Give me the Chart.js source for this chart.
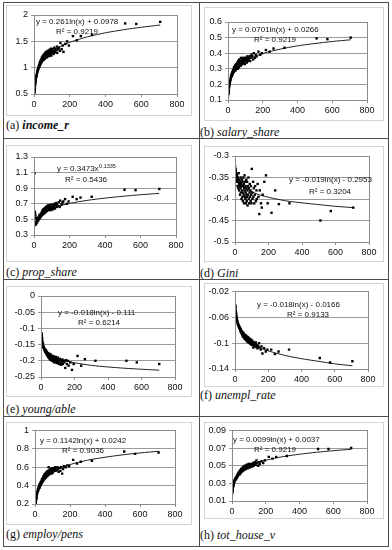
<!DOCTYPE html>
<html>
<head>
<meta charset="utf-8">
<script src="https://cdn.jsdelivr.net/npm/chart.js@4.4.1/dist/chart.umd.min.js"></script>
<style>
  body { margin: 0; background: #fff; width: 392px; height: 550px; position: relative; overflow: hidden; }
  .rule { position: absolute; background: #4d4d4d; }
  canvas { position: absolute; }
  .cap { position: absolute; font-family: 'Liberation Serif', serif; font-size: 12px; line-height: 16px; color: #111; white-space: nowrap; }
  .cap i { font-style: italic; }
</style>
</head>
<body>
<script>
// shared x values (same regions in every panel)
const X = [3,4,5,6,7,8,9,10,
  12,14,15,17,19,20,
  22,24,25,27,29,30,
  32,33,34,35,37,39,40,
  42,43,44,45,47,48,49,50,
  52,53,54,55,57,58,59,60,
  62,63,64,65,67,68,69,70,
  72,73,74,75,77,78,80,
  82,83,85,87,88,90,
  92,93,95,97,98,100,
  102,104,108,110,112,115,
  118,120,125,128,130,135,
  140,145,148,155,160,165,
  175,185,195,
  218,240,262,325,510,572,706];

const Y_INCOME = [0.53,0.57,0.6,0.66,0.7,0.72,0.76,0.8,
  0.82,0.86,0.85,0.9,0.93,0.95,
  0.97,0.99,1.0,1.03,1.05,1.02,
  1.08,1.05,1.1,1.12,1.08,1.14,1.1,
  1.16,1.12,1.19,1.13,1.17,1.21,1.15,1.2,
  1.18,1.24,1.15,1.22,1.19,1.26,1.21,1.17,
  1.23,1.28,1.2,1.25,1.22,1.3,1.19,1.26,
  1.24,1.29,1.21,1.27,1.32,1.23,1.28,
  1.25,1.3,1.22,1.34,1.27,1.24,
  1.31,1.26,1.36,1.23,1.29,1.33,
  1.28,1.35,1.3,1.26,1.38,1.32,
  1.29,1.36,1.33,1.4,1.28,1.35,
  1.38,1.32,1.47,1.35,1.42,1.3,
  1.45,1.5,1.42,
  1.6,1.52,1.6,1.62,1.84,1.83,1.87];

const Y_SALARY = [0.14,0.15,0.16,0.18,0.19,0.2,0.21,0.22,
  0.22,0.23,0.24,0.25,0.26,0.25,
  0.27,0.26,0.28,0.27,0.29,0.28,
  0.29,0.3,0.28,0.31,0.29,0.3,0.32,
  0.3,0.32,0.29,0.31,0.33,0.3,0.32,0.31,
  0.33,0.31,0.34,0.32,0.3,0.33,0.35,0.32,
  0.34,0.31,0.33,0.36,0.32,0.34,0.35,0.33,
  0.35,0.32,0.34,0.37,0.33,0.35,0.34,
  0.36,0.33,0.35,0.34,0.37,0.35,
  0.34,0.36,0.35,0.33,0.37,0.36,
  0.35,0.37,0.34,0.36,0.38,0.35,
  0.37,0.36,0.38,0.35,0.37,0.39,
  0.38,0.36,0.4,0.37,0.39,0.38,
  0.41,0.39,0.4,
  0.42,0.41,0.43,0.435,0.495,0.49,0.5];

const Y_PROP = [1.09,0.6,0.44,0.58,0.43,0.55,0.45,0.52,
  0.44,0.47,0.5,0.46,0.49,0.48,
  0.5,0.52,0.49,0.53,0.51,0.55,
  0.54,0.52,0.56,0.55,0.53,0.57,0.56,
  0.58,0.55,0.57,0.6,0.56,0.59,0.62,0.58,
  0.6,0.57,0.63,0.59,0.61,0.58,0.64,0.6,
  0.62,0.59,0.65,0.61,0.63,0.6,0.66,0.62,
  0.64,0.61,0.67,0.63,0.65,0.62,0.68,
  0.64,0.66,0.62,0.68,0.65,0.63,
  0.67,0.64,0.69,0.62,0.66,0.68,
  0.65,0.67,0.63,0.69,0.66,0.7,
  0.64,0.68,0.71,0.66,0.69,0.67,
  0.72,0.66,0.74,0.69,0.71,0.73,
  0.76,0.7,0.73,
  0.79,0.76,0.78,0.79,0.88,0.875,0.89];

const Y_GINI = [-0.33,-0.335,-0.345,-0.34,-0.355,-0.34,-0.35,-0.36,
  -0.345,-0.355,-0.37,-0.35,-0.36,-0.375,
  -0.34,-0.365,-0.38,-0.355,-0.37,-0.39,
  -0.36,-0.375,-0.35,-0.385,-0.365,-0.4,-0.37,
  -0.355,-0.38,-0.395,-0.36,-0.405,-0.37,-0.385,-0.35,
  -0.39,-0.365,-0.41,-0.375,-0.345,-0.395,-0.38,-0.36,
  -0.4,-0.37,-0.385,-0.41,-0.355,-0.39,-0.375,-0.405,
  -0.36,-0.395,-0.38,-0.415,-0.37,-0.39,-0.35,
  -0.4,-0.375,-0.41,-0.385,-0.365,-0.395,
  -0.38,-0.405,-0.37,-0.39,-0.41,-0.33,
  -0.385,-0.4,-0.36,-0.395,-0.375,-0.41,
  -0.39,-0.37,-0.405,-0.38,-0.4,-0.365,
  -0.395,-0.435,-0.38,-0.41,-0.42,-0.39,
  -0.36,-0.345,-0.41,
  -0.432,-0.38,-0.412,-0.41,-0.45,-0.428,-0.42];

const Y_YOUNG = [-0.115,-0.125,-0.12,-0.135,-0.13,-0.14,-0.145,-0.15,
  -0.148,-0.155,-0.16,-0.158,-0.165,-0.162,
  -0.168,-0.165,-0.172,-0.17,-0.175,-0.168,
  -0.176,-0.172,-0.18,-0.174,-0.182,-0.178,-0.185,
  -0.176,-0.188,-0.18,-0.184,-0.19,-0.178,-0.186,-0.192,
  -0.182,-0.195,-0.186,-0.19,-0.18,-0.197,-0.188,-0.184,
  -0.192,-0.186,-0.199,-0.19,-0.185,-0.196,-0.2,-0.188,
  -0.194,-0.19,-0.202,-0.186,-0.198,-0.192,-0.205,
  -0.19,-0.2,-0.195,-0.204,-0.188,-0.198,
  -0.202,-0.193,-0.207,-0.196,-0.2,-0.19,
  -0.205,-0.196,-0.21,-0.2,-0.194,-0.208,
  -0.198,-0.212,-0.203,-0.196,-0.21,-0.2,
  -0.205,-0.222,-0.198,-0.21,-0.2,-0.215,
  -0.205,-0.228,-0.21,
  -0.185,-0.215,-0.195,-0.2,-0.2,-0.205,-0.21];

const Y_UNEMPL = [-0.042,-0.045,-0.05,-0.053,-0.055,-0.058,-0.06,-0.062,
  -0.064,-0.066,-0.068,-0.07,-0.072,-0.071,
  -0.074,-0.073,-0.076,-0.075,-0.078,-0.077,
  -0.08,-0.078,-0.082,-0.079,-0.083,-0.081,-0.085,
  -0.082,-0.086,-0.084,-0.088,-0.085,-0.09,-0.087,-0.084,
  -0.089,-0.086,-0.091,-0.088,-0.093,-0.087,-0.09,-0.092,
  -0.089,-0.094,-0.091,-0.088,-0.095,-0.092,-0.09,-0.096,
  -0.093,-0.09,-0.097,-0.094,-0.091,-0.098,-0.095,
  -0.092,-0.099,-0.096,-0.093,-0.1,-0.097,
  -0.094,-0.101,-0.098,-0.095,-0.102,-0.099,
  -0.096,-0.103,-0.1,-0.107,-0.098,-0.104,
  -0.101,-0.105,-0.099,-0.106,-0.103,-0.108,
  -0.104,-0.1,-0.107,-0.11,-0.105,-0.116,
  -0.108,-0.113,-0.11,
  -0.11,-0.117,-0.113,-0.11,-0.123,-0.13,-0.128];

const Y_EMPLOY = [0.21,0.23,0.22,0.26,0.25,0.28,0.27,0.3,
  0.31,0.33,0.34,0.36,0.35,0.38,
  0.37,0.39,0.41,0.38,0.42,0.4,
  0.43,0.41,0.44,0.42,0.45,0.43,0.47,
  0.44,0.46,0.48,0.45,0.47,0.5,0.46,0.48,
  0.5,0.47,0.52,0.49,0.51,0.48,0.53,0.5,
  0.52,0.49,0.54,0.51,0.53,0.5,0.55,0.52,
  0.54,0.51,0.56,0.53,0.55,0.6,0.52,
  0.55,0.57,0.53,0.56,0.54,0.58,
  0.55,0.57,0.53,0.59,0.56,0.54,
  0.57,0.55,0.59,0.56,0.58,0.6,
  0.56,0.59,0.57,0.6,0.58,0.55,
  0.59,0.56,0.6,0.53,0.58,0.61,
  0.6,0.62,0.61,
  0.68,0.64,0.66,0.67,0.77,0.745,0.76];

const Y_HOUSE = [0.02,0.022,0.024,0.026,0.027,0.028,0.029,0.03,
  0.031,0.032,0.033,0.034,0.035,0.034,
  0.036,0.035,0.037,0.036,0.038,0.037,
  0.039,0.038,0.04,0.039,0.041,0.04,0.042,
  0.041,0.043,0.04,0.042,0.044,0.041,0.043,0.045,
  0.042,0.044,0.046,0.043,0.045,0.047,0.044,0.046,
  0.045,0.047,0.044,0.048,0.046,0.049,0.045,0.047,
  0.048,0.046,0.049,0.047,0.05,0.048,0.046,
  0.049,0.047,0.05,0.048,0.051,0.049,
  0.047,0.05,0.048,0.051,0.049,0.052,
  0.05,0.048,0.051,0.049,0.052,0.05,
  0.051,0.049,0.053,0.05,0.052,0.054,
  0.051,0.056,0.053,0.05,0.054,0.052,
  0.055,0.053,0.056,
  0.06,0.058,0.06,0.061,0.069,0.069,0.07];

// trend line values read at these x positions
const TREND_X = [3,5,8,12,20,30,45,70,100,150,200,300,400,500,600,706];
const TREND_INCOME = [0.385,0.518,0.64,0.746,0.88,0.986,1.091,1.207,1.3,1.406,1.481,1.587,1.662,1.72,1.767,1.81];
const TREND_SALARY = [0.104,0.139,0.172,0.201,0.237,0.265,0.293,0.324,0.349,0.378,0.398,0.426,0.447,0.462,0.475,0.486];
const TREND_PROP = [0.402,0.431,0.458,0.484,0.518,0.547,0.577,0.612,0.642,0.678,0.705,0.744,0.773,0.796,0.816,0.834];
const TREND_GINI = [-0.316,-0.326,-0.335,-0.343,-0.352,-0.36,-0.368,-0.376,-0.383,-0.391,-0.396,-0.404,-0.409,-0.413,-0.417,-0.42];
const TREND_YOUNG = [-0.131,-0.14,-0.148,-0.156,-0.165,-0.172,-0.18,-0.188,-0.194,-0.201,-0.206,-0.214,-0.219,-0.223,-0.226,-0.229];
const TREND_UNEMPL = [-0.036,-0.046,-0.054,-0.061,-0.071,-0.078,-0.085,-0.093,-0.1,-0.107,-0.112,-0.119,-0.124,-0.128,-0.132,-0.135];
const TREND_EMPLOY = [0.15,0.208,0.262,0.308,0.366,0.413,0.459,0.509,0.55,0.596,0.629,0.676,0.708,0.734,0.755,0.773];
const TREND_HOUSE = [0.0146,0.0196,0.0243,0.0283,0.0334,0.0374,0.0414,0.0458,0.0493,0.0533,0.0562,0.0602,0.063,0.0652,0.067,0.0686];

const SERIES_Y = [Y_INCOME, Y_SALARY, Y_PROP, Y_GINI, Y_YOUNG, Y_UNEMPL, Y_EMPLOY, Y_HOUSE];
const SERIES_TREND = [TREND_INCOME, TREND_SALARY, TREND_PROP, TREND_GINI, TREND_YOUNG, TREND_UNEMPL, TREND_EMPLOY, TREND_HOUSE];

const LETTERS = ['(a)','(b)','(c)','(d)','(e)','(f)','(g)','(h)'];
const NAMES = ['income_r','salary_share','prop_share','Gini','young/able','unempl_rate','employ/pens','tot_house_v'];
const EQUATIONS = ['y = 0.261ln(x) + 0.0978','y = 0.0701ln(x) + 0.0266','y = 0.3473x^0.1335','y = -0.019ln(x) - 0.2953',
  'y = -0.018ln(x) - 0.111','y = -0.018ln(x) - 0.0166','y = 0.1142ln(x) + 0.0242','y = 0.0099ln(x) + 0.0037'];
const R2 = ['0.9219','0.9219','0.5436','0.3204','0.6214','0.9133','0.9036','0.9219'];

const Y_MIN = [0.5, 0.1, 0.3, -0.5, -0.25, -0.14, 0.2, 0.01];
const Y_MAX = [2, 0.6, 1.3, -0.3, 0, -0.02, 1, 0.09];
const Y_STEP = [0.5, 0.1, 0.2, 0.05, 0.05, 0.02, 0.2, 0.02];
const X_MIN = 0, X_MAX = 800, X_STEP = 200;

// page layout: chart frame, plot box, equation offsets, caption position
const LAYOUT = [
  { frame: [6,5,192,116],   plot: [34,15,177,94],   eq: [2,7,22,17],   cap: [6,125] },
  { frame: [204,7,384,121], plot: [228,22,367,100], eq: [4,8,26,18],   cap: [200,132] },
  { frame: [6,145,192,262], plot: [34,157,176,235], eq: [23,12,31,23], cap: [6,272] },
  { frame: [204,146,384,262], plot: [235,156,369,242], eq: [54,24,74,36], cap: [200,273] },
  { frame: [6,286,192,397], plot: [41,296,175,377], eq: [17,17,37,27], cap: [6,409] },
  { frame: [204,283,384,387], plot: [235,290,368,369], eq: [22,13,52,23], cap: [200,395] },
  { frame: [6,422,192,525], plot: [35,428,175,504], eq: [5,10,27,20],  cap: [6,534] },
  { frame: [204,422,384,519], plot: [232,429,367,501], eq: [1,9,22,19], cap: [200,535] }
];

const RULES = [
  [3,2,386,1], [3,546,386,1], [3,2,1,545], [388,2,1,545], [199,2,1,545],
  [3,138,386,1], [3,279,386,1], [3,416,386,1]
];

RULES.forEach(r => {
  const d = document.createElement('div');
  d.className = 'rule';
  d.style.cssText = `left:${r[0]}px;top:${r[1]}px;width:${r[2]}px;height:${r[3]}px`;
  document.body.appendChild(d);
});

const fmt = v => String(+v.toFixed(3));

const excelPlot = {
  id: 'excelPlot',
  beforeDraw(chart) {
    const ctx = chart.ctx;
    ctx.save();
    ctx.strokeStyle = '#d4d4d4';
    ctx.lineWidth = 1;
    ctx.strokeRect(0.5, 0.5, chart.width - 1, chart.height - 1);
    ctx.restore();
  },
  afterDatasetsDraw(chart) {
    const ctx = chart.ctx, a = chart.chartArea;
    ctx.save();
    ctx.strokeStyle = '#8c8c8c';
    ctx.lineWidth = 1;
    ctx.strokeRect(Math.round(a.left) + 0.5, Math.round(a.top) + 0.5, Math.round(a.right - a.left), Math.round(a.bottom - a.top));
    ctx.restore();
  },
  afterDraw(chart) {
    const o = chart.options.plugins.excelPlot;
    const ctx = chart.ctx, a = chart.chartArea;
    ctx.save();
    ctx.fillStyle = '#111';
    ctx.textBaseline = 'middle';
    ctx.font = '8px "Liberation Sans", Arial, sans-serif';
    const x1 = a.left + o.eq[0], y1 = a.top + o.eq[1];
    if (o.equation.includes('^')) {
      const [base, sup] = o.equation.split('^');
      ctx.fillText(base, x1, y1);
      const w = ctx.measureText(base).width;
      ctx.font = '5.5px "Liberation Sans", Arial, sans-serif';
      ctx.fillText(sup, x1 + w + 0.5, y1 - 3);
      ctx.font = '8px "Liberation Sans", Arial, sans-serif';
    } else {
      ctx.fillText(o.equation, x1, y1);
    }
    ctx.fillText('R\u00B2 = ' + o.r2, a.left + o.eq[2], a.top + o.eq[3]);
    ctx.restore();
  }
};

LAYOUT.forEach((p, i) => {
  const [fl, ft, fr, fb] = p.frame;
  const [pl, pt, pr, pb] = p.plot;
  const cv = document.createElement('canvas');
  cv.width = fr - fl;
  cv.height = fb - ft;
  cv.style.left = fl + 'px';
  cv.style.top = ft + 'px';
  document.body.appendChild(cv);

  const cap = document.createElement('div');
  cap.className = 'cap';
  cap.style.left = p.cap[0] + 'px';
  cap.style.top = (p.cap[1] - 8) + 'px';
  cap.innerHTML = LETTERS[i] + ' ' + (i === 0 ? '<i><b>' + NAMES[i] + '</b></i>' : '<i>' + NAMES[i] + '</i>');
  document.body.appendChild(cap);

  const pts = X.map((x, k) => ({ x: x, y: SERIES_Y[i][k] }));
  const trend = TREND_X.map((x, k) => ({ x: x, y: SERIES_TREND[i][k] }));

  new Chart(cv, {
    type: 'scatter',
    data: {
      datasets: [
        { data: pts, pointStyle: 'rect', pointRadius: 1.7, backgroundColor: '#000', borderWidth: 0 },
        { data: trend, showLine: true, pointRadius: 0, borderColor: '#222', borderWidth: 1, tension: 0.3 }
      ]
    },
    options: {
      responsive: false,
      animation: false,
      events: [],
      layout: { padding: { top: pt - ft, right: fr - pr, bottom: 0, left: 0 } },
      plugins: {
        legend: { display: false },
        tooltip: { enabled: false },
        excelPlot: { equation: EQUATIONS[i], r2: R2[i], eq: p.eq }
      },
      scales: {
        x: {
          type: 'linear', min: X_MIN, max: X_MAX,
          ticks: { stepSize: X_STEP, color: '#111', font: { family: '"Liberation Sans", Arial', size: 9 }, padding: 2, maxRotation: 0 },
          grid: { drawOnChartArea: false, color: '#8c8c8c', tickLength: 3 },
          border: { color: '#8c8c8c' },
          afterFit: s => { s.height = fb - pb; }
        },
        y: {
          type: 'linear', min: Y_MIN[i], max: Y_MAX[i],
          ticks: { stepSize: Y_STEP[i], color: '#111', font: { family: '"Liberation Sans", Arial', size: 9 }, padding: 3, callback: v => fmt(v) },
          grid: { color: '#9a9a9a', tickLength: 3 },
          border: { color: '#8c8c8c' },
          afterFit: s => { s.width = pl - fl; }
        }
      }
    },
    plugins: [excelPlot]
  });
});
</script>
</body>
</html>
